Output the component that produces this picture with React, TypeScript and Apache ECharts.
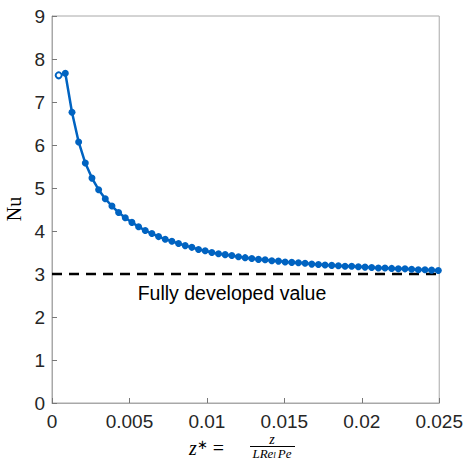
import React, { useEffect, useRef } from "react";
import * as echarts from "echarts";

const zValues = [
  0.00043, 0.00086, 0.00129, 0.00172, 0.00215, 0.00258, 0.00301, 0.00344, 0.00387, 0.0043,
  0.00473, 0.00516, 0.00559, 0.00602, 0.00645, 0.00688, 0.00731, 0.00774, 0.00817, 0.0086,
  0.00903, 0.00946, 0.00989, 0.01032, 0.01075, 0.01118, 0.01161, 0.01204, 0.01247, 0.0129,
  0.01333, 0.01376, 0.01419, 0.01462, 0.01505, 0.01548, 0.01591, 0.01634, 0.01677, 0.0172,
  0.01763, 0.01806, 0.01849, 0.01892, 0.01935, 0.01978, 0.02021, 0.02064, 0.02107, 0.0215,
  0.02193, 0.02236, 0.02279, 0.02322, 0.02365, 0.02408, 0.02451, 0.02494,
];

const nuValues = [
  7.62, 7.67, 6.76, 6.07, 5.58, 5.23, 4.96, 4.75, 4.58, 4.43,
  4.31, 4.2, 4.1, 4.01, 3.94, 3.87, 3.81, 3.76, 3.71, 3.66,
  3.62, 3.57, 3.54, 3.5, 3.47, 3.45, 3.43, 3.4, 3.38, 3.36,
  3.34, 3.33, 3.31, 3.3, 3.28, 3.27, 3.26, 3.25, 3.23, 3.22,
  3.21, 3.2, 3.19, 3.18, 3.18, 3.17, 3.16, 3.15, 3.14, 3.14,
  3.13, 3.12, 3.12, 3.11, 3.1, 3.1, 3.09, 3.08,
];

const fullyDevelopedNu = 3;
const fullyDevelopedRange = [0, 0.025];
const xTickLabels = ["0", "0.005", "0.01", "0.015", "0.02", "0.025"];
const yTickLabels = ["0", "1", "2", "3", "4", "5", "6", "7", "8", "9"];

const BLUE = "#0063c1";
const AXIS = "#a8a8a8";
const TICKTEXT = "#262626";

export default function App() {
  const ref = useRef<HTMLDivElement>(null);
  useEffect(() => {
    if (!ref.current) return;
    const chart = echarts.init(ref.current, undefined, { renderer: "svg" });
    const seriesData = zValues.map((z, i) => {
      if (i === 0) {
        return {
          value: [z, nuValues[i]],
          symbol: "emptyCircle",
          symbolSize: 6,
          itemStyle: { color: BLUE, borderColor: BLUE, borderWidth: 2 },
        };
      }
      return { value: [z, nuValues[i]] };
    });
    chart.setOption({
      animation: false,
      backgroundColor: "#ffffff",
      grid: {
        left: 52,
        right: 25,
        top: 16,
        bottom: 56,
        show: true,
        borderColor: AXIS,
        borderWidth: 1,
        containLabel: false,
      },
      xAxis: {
        type: "value",
        min: 0,
        max: 0.025,
        interval: 0.005,
        splitLine: { show: false },
        axisLine: { show: true, lineStyle: { color: AXIS, width: 1 } },
        axisTick: { show: true, inside: true, length: 5, lineStyle: { color: "#777" } },
        axisLabel: {
          color: TICKTEXT,
          fontSize: 19,
          fontFamily: "Liberation Sans",
          margin: 9,
          formatter: (_v: number, idx: number) => xTickLabels[idx] ?? "",
        },
      },
      yAxis: {
        type: "value",
        min: 0,
        max: 9,
        interval: 1,
        splitLine: { show: false },
        axisLine: { show: true, lineStyle: { color: AXIS, width: 1 } },
        axisTick: { show: true, inside: true, length: 5, lineStyle: { color: "#777" } },
        axisLabel: {
          color: TICKTEXT,
          fontSize: 19,
          fontFamily: "Liberation Sans",
          margin: 7,
          formatter: (_v: number, idx: number) => yTickLabels[idx] ?? "",
        },
      },
      series: [
        {
          type: "line",
          data: fullyDevelopedRange.map((z) => [z, fullyDevelopedNu]),
          symbol: "none",
          lineStyle: { color: "#000000", width: 2.5, type: [10, 7] },
          z: 1,
        },
        {
          type: "line",
          data: seriesData,
          symbol: "circle",
          symbolSize: 7,
          showAllSymbol: true,
          itemStyle: { color: BLUE },
          lineStyle: { color: BLUE, width: 2.5 },
          z: 2,
        },
      ],
      graphic: [
        {
          type: "text",
          x: 232,
          y: 293,
          style: {
            text: "Fully developed value",
            font: '19.5px "Liberation Sans"',
            fill: "#000000",
            textAlign: "center",
            textVerticalAlign: "middle",
          },
        },
        {
          type: "text",
          x: 14,
          y: 209,
          rotation: Math.PI / 2,
          style: {
            text: "Nu",
            font: '20px "Liberation Serif"',
            fill: "#000000",
            textAlign: "center",
            textVerticalAlign: "middle",
          },
        },
        {
          type: "text",
          x: 189,
          y: 448,
          style: {
            text: "{z|z}{s|∗}{e| = }",
            textAlign: "left",
            textVerticalAlign: "middle",
            rich: {
              z: { font: 'italic 20px "Liberation Serif"', fill: "#000" },
              s: { font: '13px "Liberation Serif"', fill: "#000", verticalAlign: "top", padding: [0, 0, 8, 0] },
              e: { font: '20px "Liberation Serif"', fill: "#000" },
            },
          },
        },
        {
          type: "text",
          x: 272,
          y: 445.5,
          style: {
            text: "z",
            font: 'italic 14px "Liberation Serif"',
            lineHeight: 13,
            fill: "#000",
            textAlign: "center",
            textVerticalAlign: "bottom",
          },
        },
        {
          type: "line",
          shape: { x1: 250, y1: 446.5, x2: 295, y2: 446.5 },
          style: { stroke: "#000", lineWidth: 1 },
        },
        {
          type: "text",
          x: 272,
          y: 447.5,
          style: {
            text: "{a|LRe}{b|l}{a|Pe}",
            textAlign: "center",
            textVerticalAlign: "top",
            rich: {
              a: { font: 'italic 13px "Liberation Serif"', fill: "#000", lineHeight: 11 },
              b: { font: 'italic 9px "Liberation Serif"', fill: "#000", lineHeight: 11, padding: [4, 2, 0, 0] },
            },
          },
        },
      ],
    });
    return () => chart.dispose();
  }, []);
  return (
    <div
      ref={ref}
      style={{ position: "absolute", left: 0, top: 0, width: 466, height: 459 }}
    />
  );
}
